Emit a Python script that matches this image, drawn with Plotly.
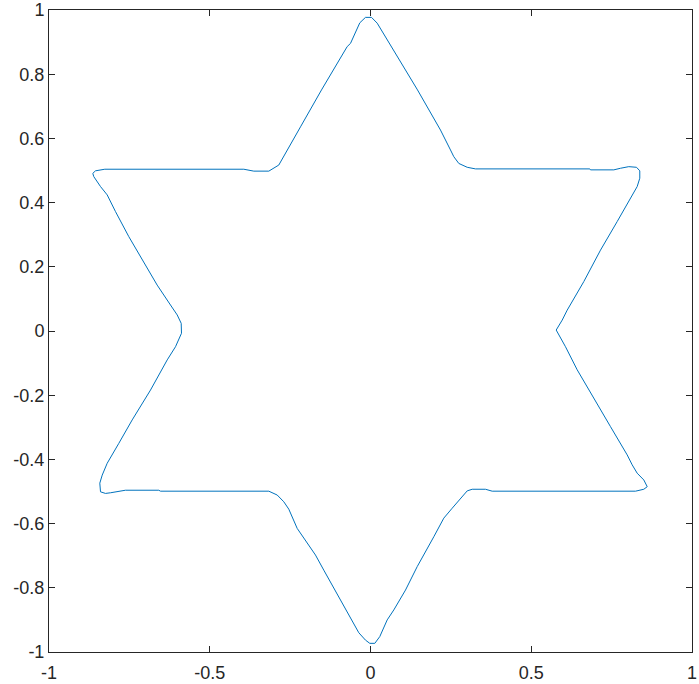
import plotly.graph_objects as go

# Outline of the star, traced counter-clockwise starting at the top
x_vals = [0.0031, -0.0156, -0.0333, -0.0467, -0.0622, -0.0725, -0.1524, -0.2177, -0.2591, -0.2852,
          -0.3163, -0.3630, -0.3941, -0.8264, -0.8554, -0.8638, -0.8607, -0.8398, -0.8190, -0.7932,
          -0.7518, -0.7154, -0.6635, -0.6221, -0.6012, -0.5888, -0.5879, -0.6065, -0.6323, -0.6843,
          -0.7412, -0.7829, -0.8190, -0.8345, -0.8420, -0.8398, -0.8243, -0.8087, -0.7621, -0.6585,
          -0.6532, -0.3163, -0.2902, -0.2697, -0.2541, -0.2280, -0.1711, -0.1453, -0.0933, -0.0569,
          -0.0364, -0.0156, -0.0022, 0.0134, 0.0289, 0.0519, 0.0725, 0.1089, 0.1453, 0.1969,
          0.2280, 0.2541, 0.2799, 0.3008, 0.3163, 0.3577, 0.3785, 0.8243, 0.8501, 0.8607,
          0.8501, 0.8295, 0.8140, 0.7984, 0.7465, 0.6946, 0.6429, 0.6065, 0.5857, 0.5776,
          0.5963, 0.6118, 0.6635, 0.7154, 0.7673, 0.8087, 0.8295, 0.8376, 0.8376, 0.8274,
          0.8034, 0.7776, 0.7568, 0.6843, 0.6821, 0.3266, 0.3008, 0.2747, 0.2591, 0.2488,
          0.2177, 0.1462, 0.0830, 0.0414, 0.0208, 0.0031]
y_vals = [0.977, 0.977, 0.960, 0.932, 0.896, 0.886, 0.751, 0.636, 0.564, 0.517,
          0.498, 0.498, 0.504, 0.504, 0.499, 0.491, 0.481, 0.450, 0.424, 0.372,
          0.294, 0.231, 0.143, 0.081, 0.050, 0.024, -0.007, -0.049, -0.090, -0.184,
          -0.277, -0.350, -0.412, -0.449, -0.474, -0.501, -0.506, -0.504, -0.496, -0.496,
          -0.499, -0.499, -0.511, -0.532, -0.555, -0.615, -0.698, -0.745, -0.838, -0.900,
          -0.940, -0.963, -0.973, -0.973, -0.952, -0.900, -0.869, -0.807, -0.734, -0.641,
          -0.583, -0.552, -0.521, -0.498, -0.493, -0.493, -0.499, -0.499, -0.493, -0.485,
          -0.464, -0.443, -0.417, -0.386, -0.298, -0.210, -0.121, -0.049, -0.012, 0.003,
          0.034, 0.065, 0.154, 0.252, 0.341, 0.413, 0.450, 0.476, 0.499, 0.510,
          0.512, 0.507, 0.502, 0.502, 0.505, 0.505, 0.510, 0.522, 0.543, 0.564,
          0.626, 0.751, 0.855, 0.927, 0.959, 0.977]

x_ticks = [-1, -0.5, 0, 0.5, 1]
x_tick_labels = ["-1", "-0.5", "0", "0.5", "1"]
y_ticks = [-1, -0.8, -0.6, -0.4, -0.2, 0, 0.2, 0.4, 0.6, 0.8, 1]
y_tick_labels = ["-1", "-0.8", "-0.6", "-0.4", "-0.2", "0", "0.2", "0.4", "0.6", "0.8", "1"]

fig = go.Figure()
fig.add_trace(go.Scatter(x=x_vals, y=y_vals, mode="lines",
                         line=dict(color="#0072BD", width=1), hoverinfo="skip"))

axis_common = dict(showgrid=False, zeroline=False, showline=True, mirror="ticks",
                   linecolor="#262626", linewidth=1, ticks="inside", ticklen=6,
                   tickcolor="#262626", tickwidth=1, automargin=False,
                   tickfont=dict(family="Liberation Sans, Arial, sans-serif", size=18, color="#262626"))

fig.update_xaxes(range=[-1, 1], tickvals=x_ticks, ticktext=x_tick_labels,
                 ticklabelstandoff=4, **axis_common)
fig.update_yaxes(range=[-1, 1], tickvals=y_ticks, ticktext=y_tick_labels, **axis_common)

fig.update_layout(width=699, height=684, margin=dict(l=49, r=7, t=10, b=32, autoexpand=False),
                  plot_bgcolor="white", paper_bgcolor="white", showlegend=False)

fig.write_html("out.html", config={"displayModeBar": False},
               post_script="document.body.style.margin='0';document.body.style.overflow='hidden';")
